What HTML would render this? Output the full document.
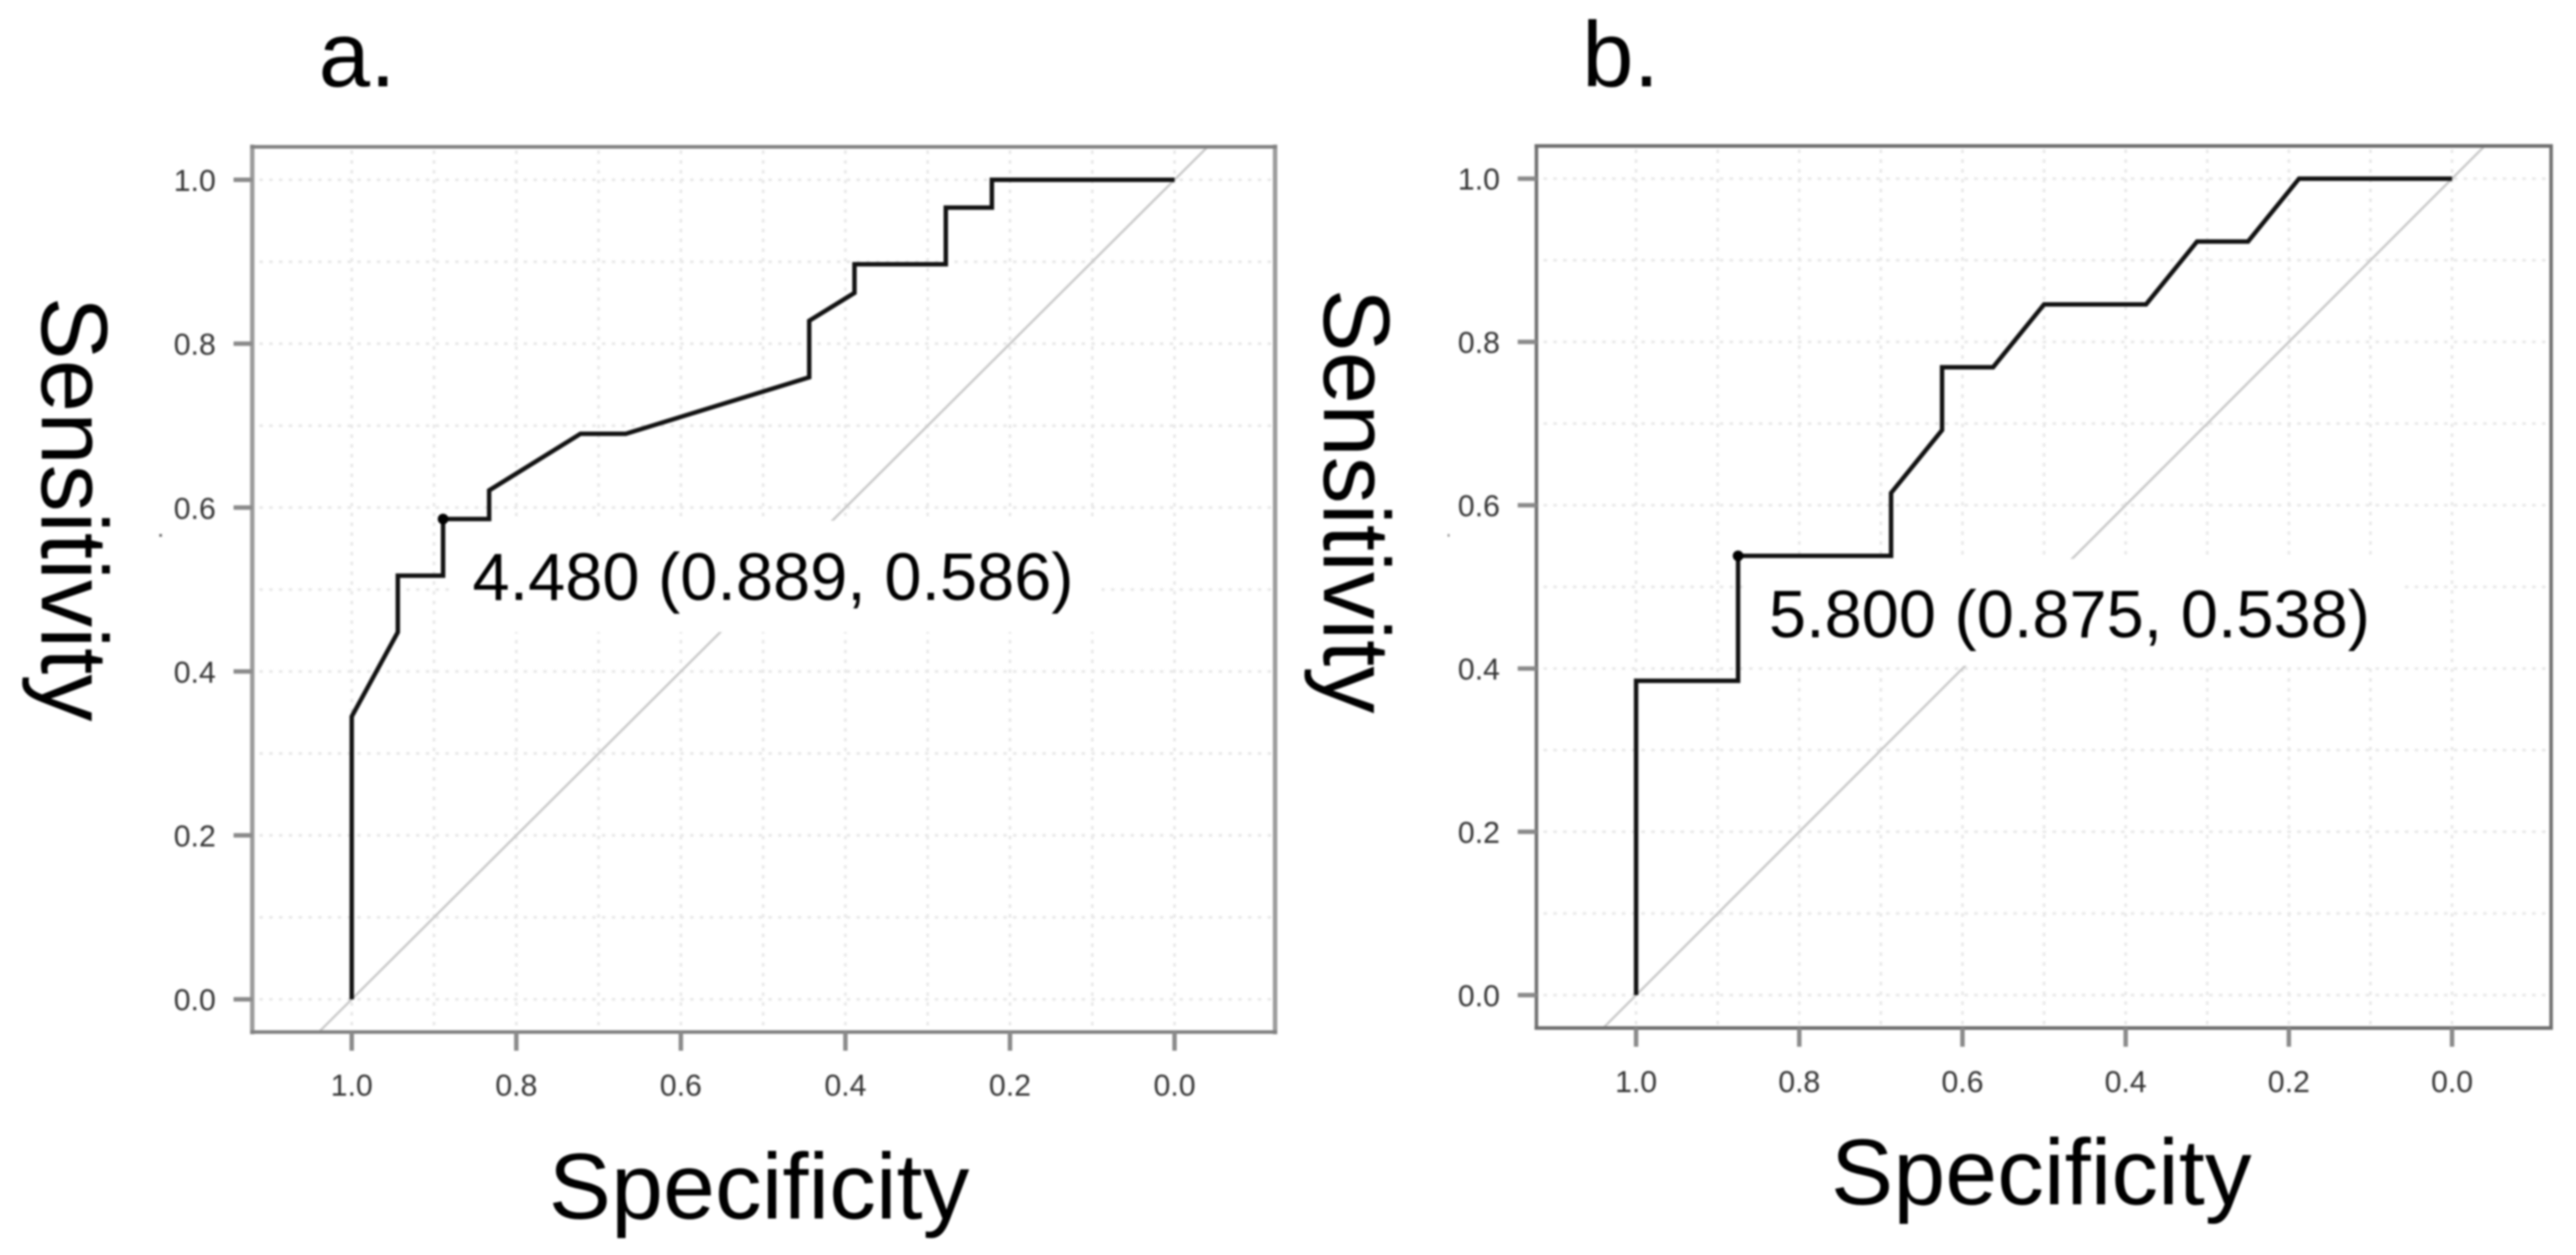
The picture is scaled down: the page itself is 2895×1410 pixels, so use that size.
<!DOCTYPE html>
<html lang="en">
<head>
<meta charset="utf-8">
<title>ROC curves</title>
<style>
html,body{margin:0;padding:0;background:#fff;width:2895px;height:1410px;overflow:hidden}
svg{display:block;filter:blur(1px)}
text{font-family:"Liberation Sans",sans-serif}
</style>
</head>
<body>
<svg id="figure" xmlns="http://www.w3.org/2000/svg" width="2895" height="1410" viewBox="0 0 2895 1410">
  <rect width="2895" height="1410" fill="#fff"/>
  <g id="panel-a"></g>
  <g id="panel-b"></g>
  <text x="358" y="97" font-size="104" fill="#000">a.</text>
  <text x="1778" y="97" font-size="104" fill="#000">b.</text>
  <text x="853" y="1369" font-size="105" text-anchor="middle" fill="#000">Specificity</text>
  <text x="2294" y="1353" font-size="105" text-anchor="middle" fill="#000">Specificity</text>
  <text transform="translate(47 572) rotate(90)" font-size="106" text-anchor="middle" fill="#000">Sensitivity</text>
  <text transform="translate(1488 563) rotate(90)" font-size="106" text-anchor="middle" fill="#000">Sensitivity</text>
  <rect x="179" y="600" width="3" height="3" fill="#666"/>
  <rect x="1627" y="600" width="2" height="3" fill="#888"/>
</svg>
<script>
const tickValues = [1.0, 0.8, 0.6, 0.4, 0.2, 0.0];
const tickLabels = ["1.0", "0.8", "0.6", "0.4", "0.2", "0.0"];
const gridValues = [0.0, 0.1, 0.2, 0.3, 0.4, 0.5, 0.6, 0.7, 0.8, 0.9, 1.0];

const specificityA = [1, 1, 0.944, 0.944, 0.889, 0.889, 0.833, 0.833, 0.722, 0.667, 0.444, 0.444, 0.389, 0.389, 0.278, 0.278, 0.222, 0.222, 0];
const sensitivityA = [0, 0.345, 0.448, 0.517, 0.517, 0.586, 0.586, 0.621, 0.690, 0.690, 0.759, 0.828, 0.862, 0.897, 0.897, 0.966, 0.966, 1, 1];
const bestPointA = [0.889, 0.586];
const annotationA = "4.480 (0.889, 0.586)";

const specificityB = [1, 1, 0.875, 0.875, 0.6875, 0.6875, 0.625, 0.625, 0.5625, 0.5, 0.375, 0.3125, 0.25, 0.1875, 0];
const sensitivityB = [0, 0.385, 0.385, 0.538, 0.538, 0.615, 0.692, 0.769, 0.769, 0.846, 0.846, 0.923, 0.923, 1, 1];
const bestPointB = [0.875, 0.538];
const annotationB = "5.800 (0.875, 0.538)";

const NS = "http://www.w3.org/2000/svg";

function make(parent, tag, attrs) {
  const el = document.createElementNS(NS, tag);
  for (const k in attrs) el.setAttribute(k, attrs[k]);
  parent.appendChild(el);
  return el;
}

function drawPanel(p) {
  const root = document.getElementById(p.id);
  const sx = v => p.x0 + (1 - v) * (p.x1 - p.x0);
  const sy = v => p.y0 + v * (p.y1 - p.y0);

  // Grid
  gridValues.forEach(v => {
    const gx = make(root, "line", {x1: sx(v), x2: sx(v), y1: p.top + 4, y2: p.bottom - 4, stroke: "#e8e8e8", "stroke-width": 3, "stroke-dasharray": "4 7"});
    
    
    const gy = make(root, "line", {x1: p.left + 8, x2: p.right - 4, y1: sy(v), y2: sy(v), stroke: "#e8e8e8", "stroke-width": 3, "stroke-dasharray": "4 7"});
    
    
  });

  // Chance diagonal, clipped to the plot box
  const over = (p.bottom - p.y0) / (p.y0 - p.y1);
  const diag = make(root, "line", {x1: sx(1 + over), y1: sy(-over), x2: sx(-over), y2: sy(1 + over), stroke: "#c8c8c8", "stroke-width": 2.6});
  
  

  // White box behind the annotation
  const mask = make(root, "rect", {x: p.mask[0], y: p.mask[1], width: p.mask[2], height: p.mask[3], fill: "#fff"});
  
  

  // Box
  const sides = [
    [p.left, p.top, p.left, p.bottom, p.vColor, p.vWidth],
    [p.right, p.top, p.right, p.bottom, p.vColor, p.vWidth],
    [p.left, p.top, p.right, p.top, p.hColor, p.hWidth],
    [p.left, p.bottom, p.right, p.bottom, p.hColor, p.hWidth]
  ];
  sides.forEach(s => {
    const side = make(root, "line", {x1: s[0], y1: s[1], x2: s[2], y2: s[3], stroke: s[4], "stroke-width": s[5], "stroke-linecap": "square"});
    
    
  });

  // Ticks and tick labels
  tickValues.forEach((v, i) => {
    const tx = make(root, "line", {x1: sx(v), x2: sx(v), y1: p.bottom, y2: p.bottom + 21, stroke: "#8a8a8a", "stroke-width": 5});
    
    
    const lx = make(root, "text", {x: sx(v), y: p.xLabelY, "font-size": 34, "text-anchor": "middle", fill: "#333"});
    lx.textContent = tickLabels[i];
    
    
    const ty = make(root, "line", {x1: p.left - 21, x2: p.left, y1: sy(v), y2: sy(v), stroke: "#8a8a8a", "stroke-width": 5});
    
    
    const ly = make(root, "text", {x: p.left - 41, y: sy(v) + 12.5, "font-size": 34, "text-anchor": "end", fill: "#333"});
    ly.textContent = tickLabels[i];
    
    
  });

  // ROC curve
  const pts = p.spec.map((s, i) => sx(s) + "," + sy(p.sens[i])).join(" ");
  const curve = make(root, "polyline", {points: pts, fill: "none", stroke: "#111", "stroke-width": 5, "stroke-linejoin": "miter"});
  
  

  // Best threshold point and annotation
  const dot = make(root, "circle", {cx: sx(p.best[0]), cy: sy(p.best[1]), r: 6, fill: "#000"});
  
  
  const note = make(root, "text", {x: p.noteX, y: p.noteY, "font-size": 75, fill: "#000"});
  note.textContent = p.note;
  
  
}

drawPanel({
  id: "panel-a", spec: specificityA, sens: sensitivityA, best: bestPointA, note: annotationA,
  x0: 395.3, x1: 1320, y0: 1122.7, y1: 202,
  left: 283.5, right: 1433, top: 165, bottom: 1159.5,
  vColor: "#9c9c9c", vWidth: 5, hColor: "#808080", hWidth: 4,
  xLabelY: 1231, noteX: 531, noteY: 674,
  mask: [505, 585, 733, 125]
});

drawPanel({
  id: "panel-b", spec: specificityB, sens: sensitivityB, best: bestPointB, note: annotationB,
  x0: 1838.7, x1: 2755.7, y0: 1118, y1: 200.7,
  left: 1726.7, right: 2867, top: 164, bottom: 1155,
  vColor: "#707070", vWidth: 4, hColor: "#6c6c6c", hWidth: 4,
  xLabelY: 1227, noteX: 1988, noteY: 716,
  mask: [1963, 628, 735, 120]
});
</script>
</body>
</html>
